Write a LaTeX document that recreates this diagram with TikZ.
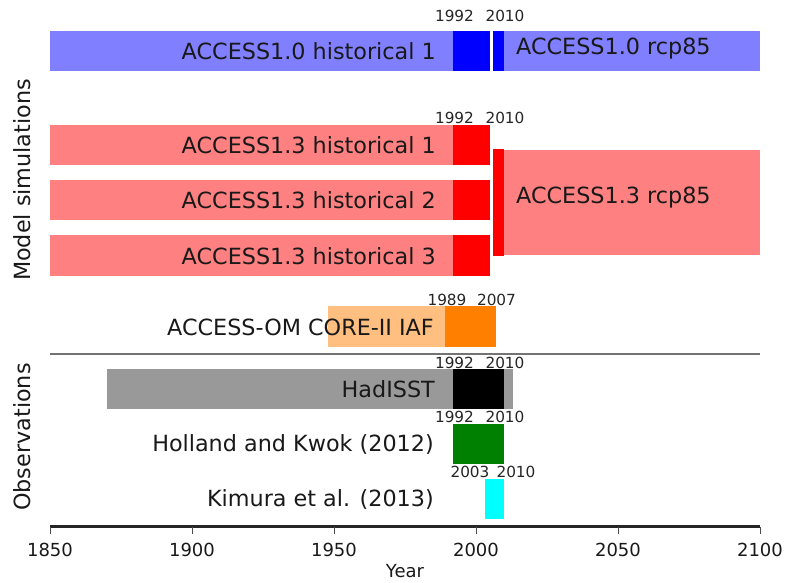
\documentclass[tikz,border=0pt]{standalone}
\usepackage{fontspec}
\setmainfont{DejaVu Sans}
\newcommand\X[1]{(50+(#1-1850)*2.84)}
\definecolor{bluelt}{RGB}{127,127,255}
\definecolor{redlt}{RGB}{255,128,128}
\definecolor{orangelt}{RGB}{255,191,128}
\definecolor{graylt}{RGB}{153,153,153}
\definecolor{darkor}{RGB}{255,128,0}
\definecolor{darkgr}{RGB}{0,128,0}
\definecolor{purecyan}{RGB}{0,255,255}
\begin{document}
\begin{tikzpicture}[x=1pt,y=-1pt,
  lab/.style={inner sep=0pt,font=\fontsize{22.3}{26}\selectfont,text=black!90},
  labr/.style={lab,anchor=east},
  labl/.style={lab,anchor=west},
  yrlab/.style={inner sep=0pt,font=\fontsize{15.3}{18}\selectfont,text=black!85},
  ticklab/.style={inner sep=0pt,font=\fontsize{18}{21}\selectfont,text=black!90},
  axlab/.style={inner sep=0pt,font=\fontsize{22.3}{26}\selectfont,text=black!90,rotate=90}]
\useasboundingbox (0,0) rectangle (785,582);
% ---- ACCESS1.0
\fill[bluelt] ({\X{1850}},31) rectangle ({\X{2005}},71);
\fill[bluelt] ({\X{2006}},31) rectangle ({\X{2100}},71);
\fill[blue] ({\X{1992}},31) rectangle ({\X{2005}},71);
\fill[blue] ({\X{2006}},31) rectangle ({\X{2010}},71);
% ---- ACCESS1.3
\foreach \t/\b in {125/165,180/220,235/276}{
  \fill[redlt] ({\X{1850}},\t) rectangle ({\X{2005}},\b);
  \fill[red] ({\X{1992}},\t) rectangle ({\X{2005}},\b);
}
\fill[redlt] ({\X{2006}},150) rectangle ({\X{2100}},255);
\fill[red] ({\X{2006}},149) rectangle ({\X{2010}},256);
% ---- ACCESS-OM
\fill[orangelt] ({\X{1948}},306) rectangle ({\X{1989}},347);
\fill[darkor] ({\X{1989}},306) rectangle ({\X{2007}},347);
% ---- separator
\draw[line width=2pt,black!55] ({\X{1850}},354) -- ({\X{2100}},354);
% ---- observations
\fill[graylt] ({\X{1870}},369) rectangle ({\X{2013}},409);
\fill[black] ({\X{1992}},369) rectangle ({\X{2010}},409);
\fill[darkgr] ({\X{1992}},424) rectangle ({\X{2010}},464);
\fill[purecyan] ({\X{2003}},479) rectangle ({\X{2010}},519);
% ---- labels
\node[labr] (l10h) at (436,51) {ACCESS1.0 historical 1};
\node[labl] (l10r) at (516,49) {ACCESS1.0 rcp85};
\node[labr] (l13h1) at (436,145) {ACCESS1.3 historical 1};
\node[labr] (l13h2) at (436,200) {ACCESS1.3 historical 2};
\node[labr] (l13h3) at (436,256) {ACCESS1.3 historical 3};
\node[labl] (l13r) at (516,198) {ACCESS1.3 rcp85};
\node[labr] (lom) at (434,327) {ACCESS-OM CORE-II IAF};
\node[labr] (lhad) at (435,389) {HadISST};
\node[labr] (lhk) at (434,444) {Holland and Kwok (2012)};
\node[labr] (lkim) at (434,499) {Kimura et al. (2013)};
% ---- year annotations
\node[yrlab] (y1a) at (454.5,16) {1992};
\node[yrlab] (y1b) at (505,16) {2010};
\node[yrlab] (y2a) at (454.5,118) {1992};
\node[yrlab] (y2b) at (505,118) {2010};
\node[yrlab] (y3a) at (447,300) {1989};
\node[yrlab] (y3b) at (496.5,300) {2007};
\node[yrlab] (y4a) at (454.5,363) {1992};
\node[yrlab] (y4b) at (505,363) {2010};
\node[yrlab] (y5a) at (454.5,417) {1992};
\node[yrlab] (y5b) at (505,417) {2010};
\node[yrlab] (y6a) at (470,472) {2003};
\node[yrlab] (y6b) at (516,472) {2010};
% ---- axis
\draw[line width=3pt,black!85] ({\X{1850}},526) -- ({\X{2100}},526);
\foreach \yy in {1850,1900,...,2100}{
  \draw[line width=0.8pt,black!70] ({\X{\yy}},527) -- ({\X{\yy}},534);
  \node[ticklab] (t\yy) at ({\X{\yy}},549.5) {\yy};
}
\node[ticklab] (year) at (405,571) {Year};
% ---- side labels
\node[axlab] (ms) at (22,180) {Model simulations};
\node[axlab] (obs) at (22,437) {Observations};
\end{tikzpicture}
\end{document}
